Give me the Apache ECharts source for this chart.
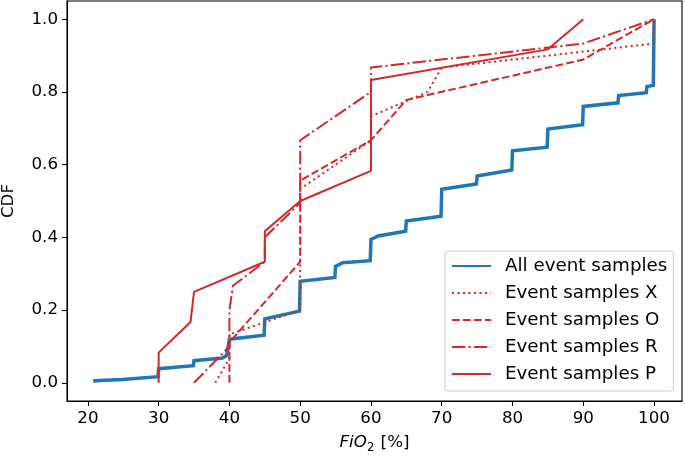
<!DOCTYPE html>
<html>
<head>
<meta charset="utf-8">
<script src="https://cdn.jsdelivr.net/npm/echarts@6/dist/echarts.min.js"></script>
<style>
  html, body { margin: 0; padding: 0; background: #fff; }
  #chart { width: 685px; height: 456px; }
</style>
</head>
<body>
<div id="chart"></div>
<script>
// ---- data ----
const xTicks = [20, 30, 40, 50, 60, 70, 80, 90, 100];
const yTicks = [0, 0.2, 0.4, 0.6, 0.8, 1.0];

const seriesNames = ['All event samples', 'Event samples X', 'Event samples O', 'Event samples R', 'Event samples P'];

const allX = [21, 21, 24.9, 25, 29.9, 30, 34.9, 35, 39, 39.6, 40, 44.9, 45, 49.9, 50, 54.9, 55, 56, 59.9, 60, 61, 64.9, 65, 69.9, 70, 74.9, 75, 79.9, 80, 84.9, 85, 89.9, 90, 94.9, 95, 98.9, 99, 99.9, 100];
const allY = [0, 0.006, 0.009, 0.013, 0.017, 0.039, 0.047, 0.061, 0.068, 0.075, 0.12, 0.131, 0.176, 0.197, 0.279, 0.29, 0.32, 0.33, 0.336, 0.394, 0.404, 0.417, 0.445, 0.458, 0.532, 0.547, 0.569, 0.585, 0.638, 0.648, 0.698, 0.71, 0.76, 0.77, 0.79, 0.798, 0.815, 0.818, 1.0];

const xX = [38, 40, 40, 50, 50, 60, 60, 68, 70, 91, 100, 100];
const xY = [0, 0.067, 0.133, 0.2, 0.533, 0.667, 0.733, 0.8, 0.867, 0.913, 0.933, 1.0];

const oX = [40, 40, 50, 50, 60, 65, 90, 100];
const oY = [0, 0.111, 0.333, 0.556, 0.667, 0.778, 0.889, 1.0];

const rX = [35, 40, 40, 40.5, 45, 45, 50, 50, 60, 60, 90, 100];
const rY = [0, 0.1, 0.2, 0.267, 0.333, 0.4, 0.495, 0.667, 0.8, 0.867, 0.933, 1.0];

const pX = [30, 30, 34.5, 35, 45, 45, 50, 60, 60, 85, 90];
const pY = [0, 0.083, 0.167, 0.25, 0.333, 0.417, 0.5, 0.583, 0.833, 0.917, 1.0];

// ---- chart ----
const zip = (a, b) => a.map((v, i) => [v, b[i]]);
const FONT = 'DejaVu Sans';
const FS = 16.7;
const LFS = 18.3;
const RED = '#d62728';
const BLUE = '#1f77b4';

const chart = echarts.init(document.getElementById('chart'), null, { renderer: 'canvas' });

function redSeries(name, data, dash) {
  return {
    name: name, type: 'line', data: data, symbol: 'none',
    lineStyle: { color: RED, width: 2, type: dash, cap: 'butt' },
    itemStyle: { color: RED }
  };
}

chart.setOption({
  animation: false,
  backgroundColor: '#fff',
  grid: { left: 67, right: 3, top: 1, bottom: 55, outerBoundsMode: 'none', containLabel: false, show: true, borderColor: '#000', borderWidth: 1.1, backgroundColor: 'transparent' },
  xAxis: {
    type: 'value', min: 17.05, max: 103.95,
    name: '{it|FiO}{sub|2}{n| [%]}',
    nameLocation: 'middle', nameGap: 31,
    nameTextStyle: {
      rich: {
        it: { fontFamily: FONT, fontStyle: 'italic', fontSize: FS, color: '#000', lineHeight: 22, verticalAlign: 'middle' },
        sub: { fontFamily: FONT, fontStyle: 'normal', fontSize: 11.7, color: '#000', lineHeight: 22, verticalAlign: 'bottom', padding: [0, 1, 0, 0] },
        n: { fontFamily: FONT, fontSize: FS, color: '#000', lineHeight: 22, verticalAlign: 'middle' }
      }
    },
    axisLine: { show: true, onZero: false, lineStyle: { color: '#000', width: 1.1 } },
    axisTick: { show: true, inside: false, length: 5, lineStyle: { color: '#000', width: 1.1 }, customValues: xTicks },
    axisLabel: { show: true, margin: 9, fontFamily: FONT, fontSize: FS, color: '#000', customValues: xTicks, formatter: v => String(Math.round(v)) },
    splitLine: { show: false }
  },
  yAxis: {
    type: 'value', min: -0.05, max: 1.05,
    name: 'CDF', nameLocation: 'middle', nameGap: 50,
    nameTextStyle: { fontFamily: FONT, fontSize: FS, color: '#000' },
    axisLine: { show: true, onZero: false, lineStyle: { color: '#000', width: 1.1 } },
    axisTick: { show: true, inside: false, length: 5, lineStyle: { color: '#000', width: 1.1 }, customValues: yTicks },
    axisLabel: { show: true, margin: 9, fontFamily: FONT, fontSize: FS, color: '#000', customValues: yTicks, formatter: v => v.toFixed(1) },
    splitLine: { show: false }
  },
  legend: {
    data: seriesNames,
    orient: 'vertical',
    left: 445, top: 251,
    padding: [5, 6, 7, 6],
    itemWidth: 39, itemHeight: 14, itemGap: 7,
    itemStyle: { opacity: 0 },
    backgroundColor: 'rgba(255,255,255,0.85)',
    borderColor: '#cccccc', borderWidth: 1, borderRadius: 3,
    textStyle: { fontFamily: FONT, fontSize: LFS, color: '#000', lineHeight: 20, padding: [0, 0, 0, 9] }
  },
  series: [
    {
      name: seriesNames[0], type: 'line', data: zip(allX, allY), symbol: 'none',
      lineStyle: { color: BLUE, width: 3.5, cap: 'butt', join: 'miter' },
      itemStyle: { color: BLUE }
    },
    redSeries(seriesNames[1], zip(xX, xY), [2.1, 3.4]),
    redSeries(seriesNames[2], zip(oX, oY), [7.7, 3.3]),
    redSeries(seriesNames[3], zip(rX, rY), [13.3, 3.3, 2.1, 3.3]),
    redSeries(seriesNames[4], zip(pX, pY), 'solid')
  ]
});
</script>
</body>
</html>
